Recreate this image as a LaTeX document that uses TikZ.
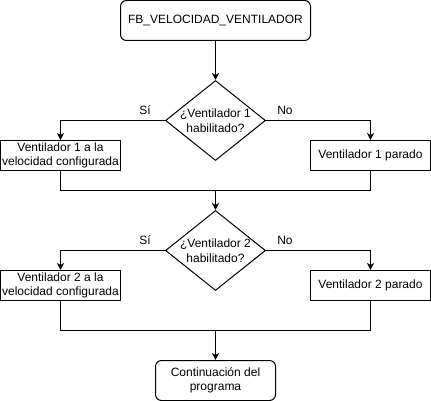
\documentclass[tikz,border=0pt]{standalone}
\usepackage{fontspec}
\setmainfont{Liberation Sans}
\usetikzlibrary{arrows.meta,shapes.geometric}

\begin{document}
\begin{tikzpicture}[x=1pt, y=-1pt, line width=1pt]
        %style
        \tikzset{terminal/.style = {shape=rectangle, draw, rounded corners=6pt, align=center, inner sep=0pt, font=\fontsize{12}{14.5}\selectfont}}
        \tikzset{decision/.style = {shape=diamond, draw, align=center, inner sep=-8pt, minimum width=100pt, minimum height=80pt, font=\fontsize{12}{14.5}\selectfont}}
        \tikzset{process/.style = {shape=rectangle, draw, align=center, inner sep=0pt, minimum width=120pt, minimum height=30pt, font=\fontsize{12}{14.5}\selectfont}}
        \tikzset{answer/.style = {font=\fontsize{12}{14.5}\selectfont, inner sep=0pt}}
        \tikzset{flow/.style = {-{Stealth[length=7pt, width=7pt, inset=2pt]}}}
        \useasboundingbox (0,0) rectangle (431,401);
        \node[terminal, minimum width=190pt, minimum height=40pt] (start) at (215.5,20.5) {FB\_VELOCIDAD\_VENTILADOR};
        \node[decision]  (fan1)   at  (215.5,120.5) {¿Ventilador 1\\habilitado?};
        \node[process]   (on1)    at  (60.5,155.5)  {Ventilador 1 a la\\velocidad configurada};
        \node[process]   (off1)   at  (370.5,155.5) {Ventilador 1 parado};
        \node[answer]    (yes1)   at  (145,110)     {Sí};
        \node[answer]    (no1)    at  (285,110)     {No};
        \coordinate      (join1)  at  (215.5,190.5);
        \node[decision]  (fan2)   at  (215.5,250.5) {¿Ventilador 2\\habilitado?};
        \node[process]   (on2)    at  (60.5,285.5)  {Ventilador 2 a la\\velocidad configurada};
        \node[process]   (off2)   at  (370.5,285.5) {Ventilador 2 parado};
        \node[answer]    (yes2)   at  (145,240)     {Sí};
        \node[answer]    (no2)    at  (285,240)     {No};
        \coordinate      (join2)  at  (215.5,330.5);
        \node[terminal, minimum width=120pt, minimum height=40pt] (stop) at (215.5,380.5) {Continuación del\\programa};
        \draw [flow] (start) to (fan1);
        \draw [flow] (fan1.west) -| (on1);
        \draw [flow] (fan1.east) -| (off1);
        \draw (on1.south) |- (join1) -| (off1.south);
        \draw [flow] (join1) to (fan2);
        \draw [flow] (fan2.west) -| (on2);
        \draw [flow] (fan2.east) -| (off2);
        \draw (on2.south) |- (join2) -| (off2.south);
        \draw [flow] (join2) to (stop);
\end{tikzpicture}
\end{document}
